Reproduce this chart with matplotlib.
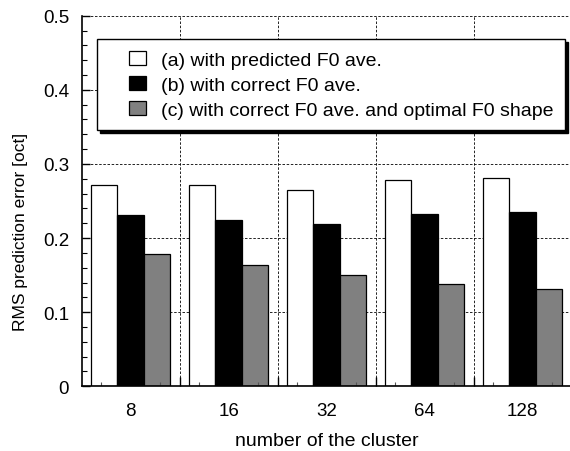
import numpy as np
import matplotlib
matplotlib.use("Agg")
import matplotlib.pyplot as plt
from matplotlib.patches import Rectangle
from matplotlib.container import BarContainer
from matplotlib.legend_handler import HandlerPatch, update_from_first_child
from matplotlib.ticker import MultipleLocator, FixedLocator, FuncFormatter
import matplotlib.transforms as mtransforms

plt.rcParams['font.family'] = ['Liberation Sans', 'DejaVu Sans']

# data
clusters = ['8', '16', '32', '64', '128']
err_pred = [0.272, 0.272, 0.265, 0.278, 0.281]
err_correct = [0.231, 0.224, 0.219, 0.233, 0.235]
err_shape = [0.179, 0.164, 0.150, 0.138, 0.131]
labels = ['(a) with predicted F0 ave.',
          '(b) with correct F0 ave.',
          '(c) with correct F0 ave. and optimal F0 shape']
colors = ['white', 'black', '#808080']

fig = plt.figure(figsize=(5.70, 4.52), dpi=100)
ax = fig.add_axes([81.7 / 570, 64.7 / 452, 490 / 570, 370.6 / 452])

x = np.arange(len(clusters))
w = 0.27
for i, (vals, col, lab) in enumerate(zip([err_pred, err_correct, err_shape], colors, labels)):
    ax.bar(x + (i - 1) * w, vals, w, color=col, edgecolor='black',
           linewidth=0.9, label=lab, zorder=3)

ax.set_xlim(-0.5, len(clusters) - 0.5)
ax.set_ylim(0, 0.5)

# grid: dashed lines at 0.1 steps and between groups
for yv in np.arange(0.1, 0.51, 0.1):
    ax.axhline(yv, color='black', lw=0.6, ls=(0, (3, 2)), zorder=1, clip_on=False)
for xb in x[:-1] + 0.5:
    ax.axvline(xb, color='black', lw=0.6, ls=(0, (3, 2)), zorder=1)

ax.spines['top'].set_visible(False)
ax.spines['right'].set_visible(False)
ax.spines['left'].set_linewidth(1.2)
ax.spines['bottom'].set_linewidth(1.2)
ax.spines['left'].set_zorder(4)
ax.spines['bottom'].set_zorder(4)

ax.yaxis.set_major_locator(MultipleLocator(0.1))
ax.yaxis.set_minor_locator(MultipleLocator(0.02))
ax.yaxis.set_major_formatter(FuncFormatter(lambda v, _: '0' if abs(v) < 1e-9 else f'{v:.1f}'))
ax.tick_params(axis='y', which='major', direction='in', length=6, width=1, pad=9, labelsize=13.5)
ax.tick_params(axis='y', which='minor', direction='in', length=3.5, width=0.8)

ax.set_xticks(x)
ax.set_xticklabels(clusters)
ax.xaxis.set_minor_locator(FixedLocator(x[:-1] + 0.5))
ax.tick_params(axis='x', which='major', length=0, pad=11, labelsize=13.5)
ax.tick_params(axis='x', which='minor', direction='in', length=6.5, width=1)

# small marks at the bottom under the outer bars
trans = mtransforms.blended_transform_factory(ax.transData, ax.transAxes)
small = np.concatenate([x - 0.3, x + 0.3])
ax.vlines(small, 0, 0.011, color='#555555', lw=0.8, transform=trans, zorder=4)

ax.set_xlabel('number of the cluster', fontsize=14, labelpad=10)
ax.set_ylabel('RMS prediction error [oct]', fontsize=12.5)
ax.yaxis.set_label_coords(-0.11, 0.42)


def offset_square(legend, orig_handle, xdescent, ydescent, width, height, fontsize):
    sq = 0.875 * fontsize
    return Rectangle((width - sq - xdescent, -ydescent), sq, height)


leg = ax.legend(loc='upper left', bbox_to_anchor=(0.032, 0.937), borderaxespad=0,
                fontsize=14, frameon=True, fancybox=False, edgecolor='black',
                framealpha=1, borderpad=0.6, labelspacing=0.36,
                handlelength=1.9, handleheight=0.77, handletextpad=0.77,
                shadow={'color': 'black', 'alpha': 1},
                handler_map={BarContainer: HandlerPatch(patch_func=offset_square,
                                                        update_func=update_from_first_child)})
leg.get_frame().set_linewidth(1.0)
leg.set_zorder(5)

fig.savefig('out.png', dpi=100)
